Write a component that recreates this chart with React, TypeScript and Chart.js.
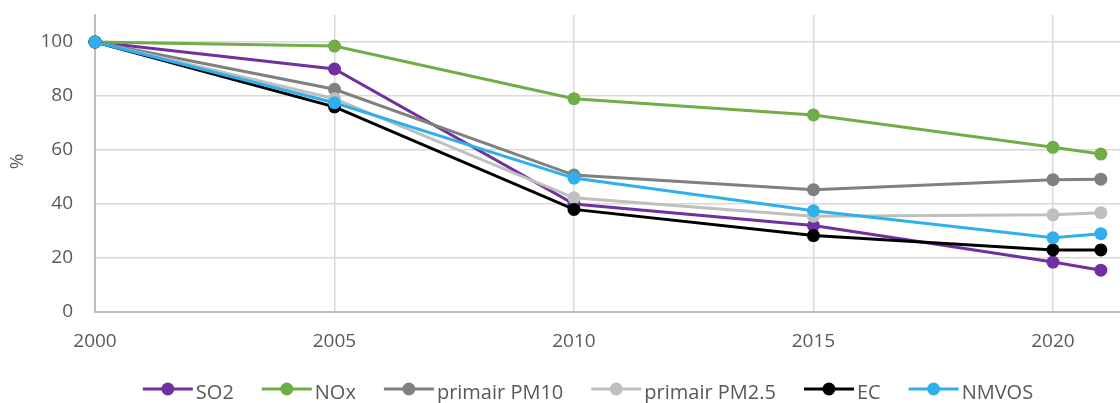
import React, { useEffect, useRef } from "react";
import { Chart, registerables } from "chart.js";

Chart.register(...registerables);

const years = [2000, 2005, 2010, 2015, 2020, 2021];
const so2 = [100, 90, 40, 32, 18.5, 15.5];
const nox = [100, 98.5, 79, 73, 61, 58.5];
const pm10 = [100, 82.5, 50.7, 45.3, 49, 49.2];
const pm25 = [100, 79, 42.3, 35.5, 36, 36.8];
const ec = [100, 76, 38, 28.3, 23, 23];
const nmvos = [100, 77.5, 49.6, 37.5, 27.5, 29];

const seriesNames = ["SO2", "NOx", "primair PM10", "primair PM2.5", "EC", "NMVOS"];
const seriesValues = [so2, nox, pm10, pm25, ec, nmvos];
const seriesColors = ["#7030a0", "#70ad47", "#808080", "#bfbfbf", "#000000", "#2fb0ec"];
const xTickValues = [2000, 2005, 2010, 2015, 2020];
const yTickValues = [0, 20, 40, 60, 80, 100];
const yTitle = "%";

const FONT = "'Open Sans', 'Liberation Sans', sans-serif";
const TEXT_COLOR = "#595959";

const yTitlePlugin = {
  id: "yTitlePlugin",
  afterDraw(chart: any) {
    const ctx = chart.ctx;
    const a = chart.chartArea;
    ctx.save();
    ctx.translate(18, (a.top + a.bottom) / 2 - 2);
    ctx.rotate(-Math.PI / 2);
    ctx.textAlign = "center";
    ctx.textBaseline = "middle";
    ctx.fillStyle = TEXT_COLOR;
    ctx.font = `19px ${FONT}`;
    ctx.fillText(yTitle, 0, 0);
    ctx.restore();
  },
};

// Legend drawn below the chart: line-with-marker symbol followed by the series name.
const legendPlugin = {
  id: "lineLegend",
  afterDraw(chart: any) {
    const ctx = chart.ctx;
    ctx.save();
    ctx.font = `20px ${FONT}`;
    const lineLen = 50;
    const symGap = 3;
    const itemGap = 28;
    const widths = seriesNames.map((n) => ctx.measureText(n).width);
    const total =
      widths.reduce((s, w) => s + lineLen + symGap + w, 0) + itemGap * (seriesNames.length - 1);
    const centerX = 588;
    const lineY = 389;
    const baseY = 399;
    let x = centerX - total / 2;
    seriesNames.forEach((name, i) => {
      const c = seriesColors[i];
      ctx.strokeStyle = c;
      ctx.lineWidth = 3;
      ctx.beginPath();
      ctx.moveTo(x, lineY);
      ctx.lineTo(x + lineLen, lineY);
      ctx.stroke();
      ctx.fillStyle = c;
      ctx.beginPath();
      ctx.arc(x + lineLen / 2, lineY, 6.5, 0, Math.PI * 2);
      ctx.fill();
      ctx.fillStyle = TEXT_COLOR;
      ctx.textAlign = "left";
      ctx.textBaseline = "alphabetic";
      ctx.fillText(name, x + lineLen + symGap, baseY);
      x += lineLen + symGap + widths[i] + itemGap;
    });
    ctx.restore();
  },
};

export default function App() {
  const ref = useRef<HTMLCanvasElement | null>(null);
  useEffect(() => {
    document.body.style.margin = "0";
    const chart = new Chart(ref.current!, {
      type: "line",
      data: {
        datasets: seriesNames.map((name, i) => ({
          label: name,
          data: years.map((y, j) => ({ x: y, y: seriesValues[i][j] })),
          borderColor: seriesColors[i],
          backgroundColor: seriesColors[i],
          pointBackgroundColor: seriesColors[i],
          pointBorderColor: seriesColors[i],
          borderWidth: 3,
          pointRadius: 6.5,
          pointBorderWidth: 0,
          order: seriesNames.length - i,
          tension: 0,
          clip: false,
        })),
      },
      plugins: [yTitlePlugin, legendPlugin],
      options: {
        responsive: true,
        maintainAspectRatio: false,
        animation: false,
        layout: { autoPadding: false, padding: { top: 15, left: 0, right: 0, bottom: 31 } },
        plugins: {
          tooltip: { enabled: false },
          legend: { display: false },
        },
        scales: {
          x: {
            type: "linear",
            min: 2000,
            max: 2021.4,
            ticks: {
              color: TEXT_COLOR,
              padding: 18,
              font: { family: FONT, size: 19 },
              callback: (v: any) => String(Math.round(v)),
              maxRotation: 0,
              autoSkip: false,
            },
            afterBuildTicks: (s: any) => {
              s.ticks = xTickValues.map((v) => ({ value: v }));
            },
            afterFit: (s: any) => {
              s.height = 60;
            },
            grid: { color: "#d9d9d9", lineWidth: 1.5, drawTicks: false },
            border: { color: "#bfbfbf", width: 2 },
          },
          y: {
            min: 0,
            max: 110,
            ticks: {
              color: TEXT_COLOR,
              padding: 0,
              font: { family: FONT, size: 19 },
              autoSkip: false,
            },
            afterBuildTicks: (s: any) => {
              s.ticks = yTickValues.map((v) => ({ value: v }));
            },
            afterFit: (s: any) => {
              s.width = 95;
            },
            grid: {
              color: "#d9d9d9",
              lineWidth: 1.5,
              drawTicks: true,
              tickLength: 22,
              tickColor: "rgba(0,0,0,0)",
            },
            border: { color: "#bfbfbf", width: 2 },
          },
        },
      },
    });
    return () => chart.destroy();
  }, []);
  return (
    <div style={{ position: "absolute", left: 0, top: 0, width: 1120, height: 403 }}>
      <canvas ref={ref} style={{ display: "block" }} />
    </div>
  );
}
